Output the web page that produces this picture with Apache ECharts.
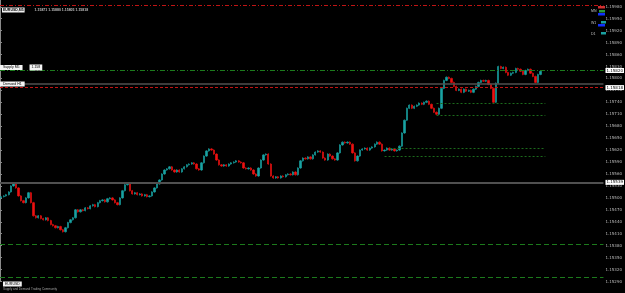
<!DOCTYPE html>
<html><head><meta charset="utf-8">
<script src="https://cdn.jsdelivr.net/npm/echarts@6/dist/echarts.min.js"></script>
<style>html,body{margin:0;padding:0;background:#000;}#c{width:625px;height:293px;}</style>
</head><body><div id="c"></div>
<script>
const symbolName = "EURUSD,M5";
const quoteText = "1.15871 1.15880 1.15805 1.15818";
const firstOpen = 1.15500;
const closes = [
1.15503,1.15505,1.15508,1.15515,1.15530,1.15535,1.15525,1.15505,1.15493,1.15488,
1.15500,1.15513,1.15488,1.15455,1.15450,1.15455,1.15448,1.15445,1.15450,1.15443,
1.15433,1.15430,1.15425,1.15428,1.15420,1.15415,1.15425,1.15438,1.15445,1.15450,
1.15470,1.15465,1.15470,1.15468,1.15475,1.15473,1.15480,1.15483,1.15478,1.15488,
1.15493,1.15495,1.15490,1.15498,1.15500,1.15495,1.15488,1.15483,1.15500,1.15518,
1.15533,1.15535,1.15518,1.15510,1.15513,1.15508,1.15510,1.15505,1.15508,1.15503,
1.15505,1.15515,1.15525,1.15535,1.15545,1.15560,1.15570,1.15573,1.15578,1.15570,
1.15565,1.15570,1.15565,1.15573,1.15578,1.15583,1.15585,1.15588,1.15585,1.15573,
1.15570,1.15588,1.15605,1.15618,1.15623,1.15620,1.15610,1.15595,1.15583,1.15580,
1.15583,1.15580,1.15585,1.15588,1.15590,1.15593,1.15590,1.15588,1.15575,1.15573,
1.15575,1.15570,1.15560,1.15555,1.15575,1.15595,1.15608,1.15610,1.15585,1.15555,
1.15550,1.15553,1.15550,1.15555,1.15553,1.15558,1.15560,1.15558,1.15565,1.15558,
1.15575,1.15593,1.15600,1.15598,1.15603,1.15598,1.15608,1.15615,1.15618,1.15615,
1.15600,1.15595,1.15610,1.15605,1.15598,1.15595,1.15613,1.15633,1.15640,1.15638,
1.15640,1.15635,1.15613,1.15593,1.15605,1.15620,1.15623,1.15625,1.15620,1.15625,
1.15628,1.15635,1.15640,1.15635,1.15618,1.15620,1.15625,1.15620,1.15623,1.15618,
1.15620,1.15630,1.15663,1.15695,1.15725,1.15733,1.15725,1.15730,1.15733,1.15738,
1.15735,1.15740,1.15743,1.15735,1.15725,1.15715,1.15710,1.15725,1.15775,1.15795,
1.15803,1.15800,1.15790,1.15780,1.15770,1.15773,1.15765,1.15773,1.15768,1.15770,
1.15765,1.15773,1.15780,1.15790,1.15795,1.15793,1.15795,1.15785,1.15775,1.15740,
1.15788,1.15830,1.15825,1.15828,1.15815,1.15808,1.15813,1.15815,1.15825,1.15823,
1.15818,1.15810,1.15820,1.15823,1.15813,1.15805,1.15790,1.15810,1.15818
];
const totalSlots = 244;
const wick = 0.00002;
const axisMin = 1.15290, axisMax = 1.15997, axisStep = 0.0003;
const levelTop = 1.15985;
const levelGreenDashDot = 1.15820;
const levelGrayUpper = 1.15786;
const levelRedDashed = 1.15777;
const levelGrayLower = 1.15539;
const levelGreenLow1 = 1.153825;
const levelGreenLow2 = 1.15300;
const shortLevels = [
  {from: 176, to: 220, value: 1.157375},
  {from: 176, to: 220, value: 1.157075},
  {from: 157, to: 220, value: 1.15625},
  {from: 155, to: 220, value: 1.15605}
];

const cats = [];
for (let i = 0; i < totalSlots; i++) cats.push(String(i));
const ohlc = closes.map((c, i) => {
  const o = i === 0 ? firstOpen : closes[i - 1];
  return [o, c, Math.min(o, c) - wick, Math.max(o, c) + wick];
});

const noLbl = {show: false};
const endLbl = (v) => ({show: true, position: 'end', formatter: v.toFixed(5), backgroundColor: '#fff', color: '#000', fontSize: 4, padding: [0.5, 1], distance: 2, fontFamily: 'DejaVu Sans'});
const boxRich = {a: {backgroundColor: '#f4f4f4', color: '#000', fontSize: 3.5, padding: [0.5, 3]}, g: {fontSize: 3.5, padding: [0, 3]}, b: {backgroundColor: '#f4f4f4', color: '#000', fontSize: 3.5, padding: [1, 2]}};

function full(v, ls, lbl) {
  return [{coord: [0, v], lineStyle: ls, label: lbl}, {coord: [1, v]}];
}
const greenDD = {color: '#1c7a1c', type: [5, 2, 1, 2], width: 1};
const grayLine = {color: '#505050', type: 'solid', width: 1.5};
const fullLines = [
  full(levelTop, {color: '#c01414', type: [4, 2, 1, 2], width: 1}, noLbl),
  full(levelGreenDashDot, greenDD, endLbl(levelGreenDashDot)),
  full(levelGreenDashDot, greenDD, {show: true, position: 'insideStartTop', distance: 0, formatter: '{a|Supply M5}{g| }{b|1.158}', rich: boxRich}),
  full(levelGrayUpper, grayLine, {show: true, position: 'insideStart', distance: 0, formatter: '{a|Demand H1}', rich: boxRich}),
  full(levelRedDashed, {color: '#c01414', type: [3, 2], width: 1}, endLbl(closes[closes.length - 1])),
  full(levelGrayLower, {color: '#505050', type: 'solid', width: 2}, endLbl(levelGrayLower)),
  full(levelGreenLow1, {color: '#1c7a1c', type: [5, 3], width: 1}, noLbl),
  full(levelGreenLow2, {color: '#1c7a1c', type: [5, 3], width: 1}, noLbl)
];
const shortLines = shortLevels.map(s => [
  {coord: [String(s.from), s.value], lineStyle: {color: '#1c6a1c', type: [2, 2], width: 1}, label: noLbl},
  {coord: [String(s.to), s.value]}
]);

const chart = echarts.init(document.getElementById('c'), null, {renderer: 'canvas'});
chart.setOption({
  backgroundColor: '#000',
  animation: false,
  grid: {left: 0, right: 16, top: 0, bottom: 11.5},
  xAxis: [
    {type: 'category', data: cats, show: false, boundaryGap: true},
    {type: 'value', min: 0, max: 1, show: false}
  ],
  yAxis: {
    type: 'value', position: 'right', min: axisMin, max: axisMax, interval: axisStep, scale: true,
    axisLine: {show: true, lineStyle: {color: '#8a8a8a', width: 1}},
    axisTick: {show: true, length: 2, lineStyle: {color: '#8a8a8a'}},
    splitLine: {show: false},
    axisLabel: {color: '#bdbdbd', fontSize: 4, margin: 2, showMaxLabel: false, formatter: v => v.toFixed(5), fontFamily: 'DejaVu Sans'}
  },
  title: {
    left: 2, top: 1, padding: 0,
    text: '{a|' + symbolName + '}  {b|' + quoteText + '}',
    textStyle: {rich: {a: {backgroundColor: '#f0f0f0', color: '#000', fontSize: 3.5, padding: [0.5, 1]}, b: {color: '#c0c0c0', fontSize: 3.5}}}
  },
  graphic: [
    {type: 'text', left: 3, top: 281.5, style: {text: 'EURUSD', fill: '#000', backgroundColor: '#f0f0f0', fontSize: 3.5, padding: [0.5, 2]}},
    {type: 'text', left: 3, top: 287.5, style: {text: 'Supply and Demand Trading Community', fill: '#a0a0a0', fontSize: 3}},
    {type: 'text', left: 591, top: 9, style: {text: 'MN', fill: '#c0c0c0', fontSize: 3.5}},
    {type: 'rect', shape: {x: 598, y: 6, width: 7, height: 2.5}, style: {fill: '#d03030'}},
    {type: 'rect', shape: {x: 599, y: 10, width: 6, height: 2.5}, style: {fill: '#2a9a3a'}},
    {type: 'rect', shape: {x: 598, y: 13, width: 7, height: 2.5}, style: {fill: '#1030ff'}},
    {type: 'text', left: 591, top: 21, style: {text: 'W1', fill: '#c0c0c0', fontSize: 3.5}},
    {type: 'rect', shape: {x: 601, y: 21, width: 5, height: 2.5}, style: {fill: '#1aa0a0'}},
    {type: 'rect', shape: {x: 598, y: 24, width: 7, height: 2.5}, style: {fill: '#1030ff'}},
    {type: 'text', left: 591, top: 32, style: {text: 'D1', fill: '#c0c0c0', fontSize: 3.5}},
    {type: 'rect', shape: {x: 601, y: 32, width: 5, height: 2.5}, style: {fill: '#1aa0a0'}}
  ],
  series: [
    {
      type: 'line', xAxisIndex: 1, data: [[0, levelGrayLower]], symbol: 'none', lineStyle: {opacity: 0}, silent: true,
      markLine: {silent: true, symbol: 'none', animation: false, data: fullLines}
    },
    {
      type: 'candlestick', xAxisIndex: 0,
      data: ohlc,
      barWidth: 1.8,
      itemStyle: {color: '#19a3a3', color0: '#ee1111', borderColor: '#19a3a3', borderColor0: '#ee1111', borderWidth: 0.6},
      markLine: {silent: true, symbol: 'none', animation: false, data: shortLines}
    }
  ]
});
</script>
</body></html>
